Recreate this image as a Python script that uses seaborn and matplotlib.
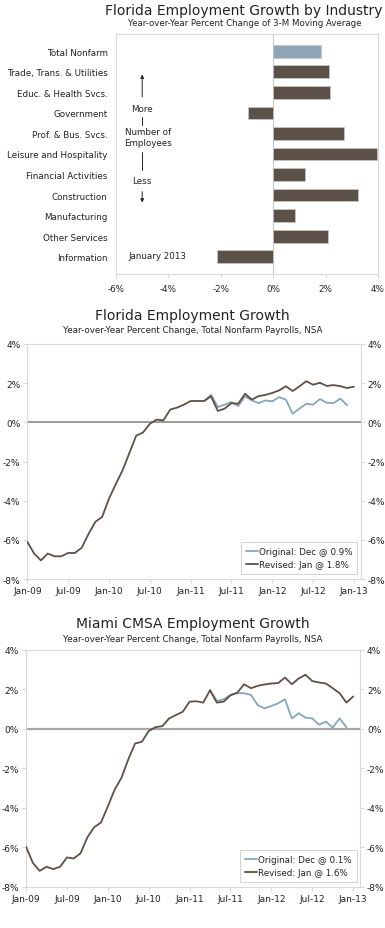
import numpy as np
import pandas as pd
import matplotlib
matplotlib.use("Agg")
import matplotlib.pyplot as plt
import seaborn as sns

# --- data -------------------------------------------------------------
industries = ["Total Nonfarm", "Trade, Trans. & Utilities", "Educ. & Health Svcs.",
              "Government", "Prof. & Bus. Svcs.", "Leisure and Hospitality",
              "Financial Activities", "Construction", "Manufacturing",
              "Other Services", "Information"]
industry_growth = [1.84, 2.12, 2.17, -0.95, 2.70, 3.95, 1.23, 3.23, 0.85, 2.10, -2.15]

month_ticks = [0, 6, 12, 18, 24, 30, 36, 42, 48]
month_labels = ["Jan-09", "Jul-09", "Jan-10", "Jul-10", "Jan-11",
                "Jul-11", "Jan-12", "Jul-12", "Jan-13"]

# Florida, Jan-09 .. Jan-13
fl_revised = [-6.10, -6.70, -7.05, -6.70, -6.84, -6.84, -6.67, -6.67, -6.40, -5.70,
              -5.08, -4.83, -3.90, -3.16, -2.45, -1.57, -0.68, -0.52, -0.08, 0.14,
              0.10, 0.65, 0.75, 0.90, 1.09, 1.09, 1.09, 1.33, 0.58, 0.70,
              0.98, 0.95, 1.46, 1.16, 1.34, 1.40, 1.50, 1.63, 1.84, 1.60,
              1.84, 2.10, 1.92, 2.02, 1.86, 1.90, 1.85, 1.75, 1.82]
# Florida original estimate, Mar-11 .. Dec-12
fl_original_start = 26
fl_original = [1.09, 1.41, 0.78, 0.90, 1.04, 0.83, 1.33, 1.12, 0.98, 1.12, 1.07,
               1.29, 1.16, 0.44, 0.70, 0.95, 0.90, 1.19, 1.00, 0.98, 1.21, 0.88]

# Miami CMSA, Jan-09 .. Jan-13
mi_revised = [-5.97, -6.79, -7.20, -6.99, -7.11, -6.99, -6.52, -6.57, -6.31, -5.50,
              -4.99, -4.75, -3.94, -3.09, -2.49, -1.56, -0.75, -0.66, -0.12, 0.08,
              0.13, 0.52, 0.69, 0.86, 1.37, 1.39, 1.32, 1.95, 1.32, 1.37,
              1.69, 1.83, 2.25, 2.05, 2.17, 2.24, 2.29, 2.31, 2.59, 2.25,
              2.54, 2.73, 2.41, 2.34, 2.29, 2.05, 1.80, 1.32, 1.63]
# Miami original estimate, Apr-11 .. Dec-12
mi_original_start = 27
mi_original = [1.95, 1.40, 1.49, 1.71, 1.80, 1.80, 1.71, 1.19, 1.03, 1.15, 1.29,
               1.49, 0.52, 0.78, 0.56, 0.52, 0.20, 0.36, 0.05, 0.52, 0.08]

BROWN = "#5e5145"
BLUE = "#87a6ba"
FRAME = "#d9d9d9"
TEXT = "#222222"

sns.set_style("white")
plt.rcParams["font.family"] = ["DejaVu Sans"]

W, H = 385, 929
fig = plt.figure(figsize=(W / 100, H / 100), dpi=100)


def box(x0, y0, x1, y1):
    """pixel box (top-left origin) -> figure rect"""
    return [x0 / W, 1 - y1 / H, (x1 - x0) / W, (y1 - y0) / H]


def style_frame(ax):
    for s in ax.spines.values():
        s.set_visible(True)
        s.set_color(FRAME)
        s.set_linewidth(0.8)


# --- bar chart ---------------------------------------------------------
def plot_industry(fig):
    ax = fig.add_axes(box(116, 35, 378, 275))
    df = pd.DataFrame({"industry": industries, "growth": industry_growth})
    colors = [BLUE] + [BROWN] * (len(industries) - 1)
    sns.barplot(data=df, x="growth", y="industry", hue="industry", palette=colors,
                legend=False, orient="h", width=0.62, ax=ax,
                edgecolor="#cfc9c2", linewidth=0.5)
    ax.axvline(0, color="#c8c8c8", lw=0.8, zorder=0)
    ax.set_xlim(-6, 4)
    ax.set_xticks([-6, -4, -2, 0, 2, 4])
    ax.set_xticklabels(["-6%", "-4%", "-2%", "0%", "2%", "4%"])
    ax.set_xlabel("")
    ax.set_ylabel("")
    style_frame(ax)
    ax.tick_params(axis="x", bottom=True, length=3, color=FRAME, labelsize=6.3,
                   labelcolor=TEXT, pad=4)
    ax.tick_params(axis="y", left=False, length=0, labelsize=6.3, labelcolor=TEXT, pad=6)

    # annotation
    ax.annotate("", xy=(-5.0, 1.0), xytext=(-5.0, 2.35),
                arrowprops=dict(arrowstyle="-|>", color=TEXT, lw=0.7, mutation_scale=5))
    ax.text(-5.0, 2.8, "More", ha="center", va="center", fontsize=6.3, color=TEXT)
    ax.plot([-5.0, -5.0], [3.22, 3.6], color=TEXT, lw=0.7)
    ax.text(-4.78, 3.92, "Number of", ha="center", va="center", fontsize=6.3, color=TEXT)
    ax.text(-4.78, 4.45, "Employees", ha="center", va="center", fontsize=6.3, color=TEXT)
    ax.plot([-5.0, -5.0], [4.9, 5.78], color=TEXT, lw=0.7)
    ax.text(-5.0, 6.27, "Less", ha="center", va="center", fontsize=6.3, color=TEXT)
    ax.annotate("", xy=(-5.0, 7.5), xytext=(-5.0, 6.7),
                arrowprops=dict(arrowstyle="-|>", color=TEXT, lw=0.7, mutation_scale=5))
    ax.text(-4.4, 9.94, "January 2013", ha="center", va="center", fontsize=6.3, color=TEXT)

    fig.text(244 / W, 1 - 11 / H, "Florida Employment Growth by Industry",
             ha="center", va="center", fontsize=10, color=TEXT)
    fig.text(245 / W, 1 - 23 / H, "Year-over-Year Percent Change of 3-M Moving Average",
             ha="center", va="center", fontsize=6.2, color=TEXT)
    return ax


# --- line charts -------------------------------------------------------
def plot_growth(fig, rect, title, title_y, revised, original, orig_start,
                orig_label, rev_label, zero_color, zero_lw):
    ax = fig.add_axes(rect)
    rows = []
    for i, v in enumerate(original):
        rows.append((orig_start + i, v, orig_label))
    for i, v in enumerate(revised):
        rows.append((i, v, rev_label))
    df = pd.DataFrame(rows, columns=["month", "pct", "series"])

    ax.axhline(0, color=zero_color, lw=zero_lw, zorder=1)
    sns.lineplot(data=df, x="month", y="pct", hue="series",
                 hue_order=[orig_label, rev_label], palette=[BLUE, BROWN],
                 lw=1.3, ax=ax, zorder=3)
    ax.set_xlim(0, 49)
    ax.set_ylim(-8, 4)
    ax.set_xticks(month_ticks)
    ax.set_xticklabels(month_labels)
    ax.set_yticks([-8, -6, -4, -2, 0, 2, 4])
    ax.set_yticklabels(["-8%", "-6%", "-4%", "-2%", "0%", "2%", "4%"])
    ax.set_xlabel("")
    ax.set_ylabel("")
    style_frame(ax)
    ax.tick_params(axis="both", direction="out", length=3, color=FRAME,
                   labelsize=6.5, labelcolor=TEXT)
    ax.tick_params(axis="y", left=True, right=True, labelright=True, pad=2)
    ax.tick_params(axis="x", bottom=True, pad=2)

    leg = ax.legend(loc="lower right", bbox_to_anchor=(0.99, 0.02), borderaxespad=0,
                    fontsize=6.3, frameon=True, fancybox=False, handlelength=1.4,
                    handletextpad=0.1, borderpad=0.55, labelspacing=0.5)
    leg.get_frame().set_edgecolor("#c8c8c8")
    leg.get_frame().set_linewidth(0.7)
    for t in leg.get_texts():
        t.set_color(TEXT)
    # the reference legend box has extra room on the left
    leg.get_frame().set_x(0)

    fig.text(192.5 / W, 1 - title_y / H, title, ha="center", va="center",
             fontsize=10, color=TEXT)
    fig.text(192.5 / W, 1 - (title_y + 15) / H,
             "Year-over-Year Percent Change, Total Nonfarm Payrolls, NSA",
             ha="center", va="center", fontsize=6.3, color=TEXT)
    return ax


plot_industry(fig)
plot_growth(fig, box(27.3, 345, 360.7, 580), "Florida Employment Growth", 316,
            fl_revised, fl_original, fl_original_start,
            "Original: Dec @ 0.9%", "Revised: Jan @ 1.8%", "#7f7f7f", 1.1)
plot_growth(fig, box(26, 650.7, 360, 887.7), "Miami CMSA Employment Growth", 624,
            mi_revised, mi_original, mi_original_start,
            "Original: Dec @ 0.1%", "Revised: Jan @ 1.6%", "#a6a6a6", 1.6)

fig.savefig("out.png", dpi=100)
